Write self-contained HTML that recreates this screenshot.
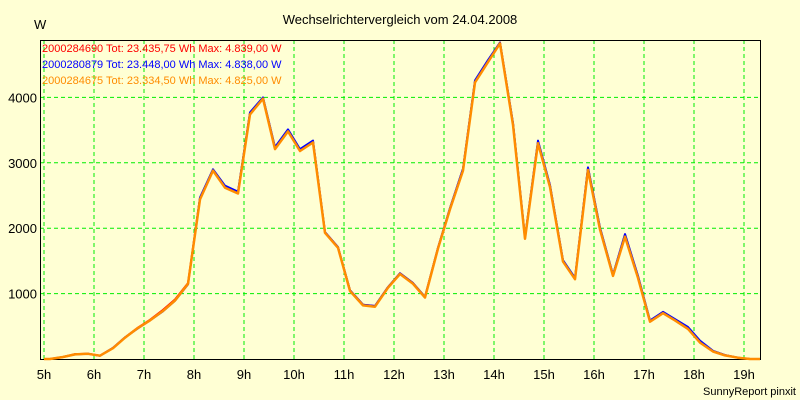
<!DOCTYPE html>
<html><head><meta charset="utf-8"><style>
body{margin:0;background:#ffffd4;}
svg{display:block;font-family:"Liberation Sans",sans-serif;}
</style></head><body>
<svg id="c" width="800" height="400">
<rect width="800" height="400" fill="#ffffd4"/>
<text x="400" y="24" text-anchor="middle" font-size="13">Wechselrichtervergleich vom 24.04.2008</text>
<text x="34" y="29" font-size="13">W</text>
<g id="grid"></g>
<g id="axes"></g>
<g id="series"></g>
<g id="legend"></g>
<text x="796" y="395" text-anchor="end" font-size="11">SunnyReport pinxit</text>
</svg>
<script>
const hours=[5.0,5.12,5.38,5.62,5.88,6.12,6.38,6.62,6.88,7.12,7.38,7.62,7.88,8.12,8.38,8.62,8.88,9.12,9.38,9.62,9.88,10.12,10.38,10.62,10.88,11.12,11.38,11.62,11.88,12.12,12.38,12.62,12.88,13.12,13.38,13.62,13.88,14.12,14.38,14.62,14.88,15.12,15.38,15.62,15.88,16.12,16.38,16.62,16.88,17.12,17.38,17.62,17.88,18.12,18.38,18.62,18.88,19.12,19.32];
const seriesRed=[0,0,30,75,80,50,170,330,480,600,750,910,1160,2460,2890,2640,2550,3760,3990,3230,3500,3200,3330,1940,1710,1050,830,810,1100,1310,1160,950,1700,2300,2900,4250,4560,4839,3600,1850,3320,2650,1500,1230,2920,2000,1280,1900,1260,580,720,600,480,270,120,60,20,0,0];
const seriesBlue=[0,0,30,70,80,50,170,330,470,590,730,890,1140,2470,2900,2650,2560,3770,4000,3240,3510,3210,3340,1940,1710,1050,830,810,1100,1310,1160,950,1700,2310,2910,4260,4570,4838,3610,1860,3340,2660,1510,1240,2930,2010,1290,1910,1270,590,720,610,490,280,125,60,20,0,0];
const seriesOrange=[0,0,30,70,80,50,165,325,475,590,735,895,1150,2440,2880,2620,2530,3740,3980,3210,3480,3180,3310,1930,1700,1040,820,800,1090,1300,1150,940,1690,2290,2880,4230,4540,4825,3580,1840,3300,2630,1490,1220,2890,1980,1270,1870,1240,570,700,590,460,250,115,55,20,0,0];
const yTicks=[1000,2000,3000,4000];
const xTicks=[5,6,7,8,9,10,11,12,13,14,15,16,17,18,19];
const legendLabels=["2000284690 Tot: 23.435,75 Wh Max: 4.839,00 W","2000280879 Tot: 23.448,00 Wh Max: 4.838,00 W","2000284675 Tot: 23.334,50 Wh Max: 4.825,00 W"];
const NS="http://www.w3.org/2000/svg";
const L=40,R=760,T=40,B=359;
const xs=h=>44+(h-5)*50;
const ys=v=>B-v*0.0654;
function mk(tag,attrs,parent){const e=document.createElementNS(NS,tag);for(const k in attrs)e.setAttribute(k,attrs[k]);parent.appendChild(e);return e;}
const grid=document.getElementById('grid'),axes=document.getElementById('axes'),ser=document.getElementById('series'),leg=document.getElementById('legend');
yTicks.forEach(v=>{
 const l=mk('line',{x1:L,x2:R,y1:ys(v),y2:ys(v),stroke:'#00ee00','stroke-dasharray':'4,3','stroke-width':1},grid);
 
 
 const t=mk('text',{x:37,y:ys(v)+5,'text-anchor':'end','font-size':13},axes);t.textContent=v;
 
 
});
xTicks.forEach(h=>{
 const l=mk('line',{x1:xs(h),x2:xs(h),y1:T,y2:B,stroke:'#00ee00','stroke-dasharray':'4,3','stroke-width':1},grid);
 
 
 const t=mk('text',{x:xs(h),y:379,'text-anchor':'middle','font-size':13},axes);t.textContent=h+'h';
 
 
});
const frame=mk('rect',{x:L+0.5,y:T+0.5,width:R-L,height:B-T,fill:'none',stroke:'#000','stroke-width':1},axes);


const all=[[seriesRed,'#ff0000'],[seriesBlue,'#0000ff'],[seriesOrange,'#ff8c00']];
all.forEach(([d,c],i)=>{
 const pts=d.map((v,j)=>xs(hours[j]).toFixed(1)+','+ys(v).toFixed(1)).join(' ');
 const p=mk('polyline',{points:pts,fill:'none',stroke:c,'stroke-width':i==2?2.5:2,'stroke-linejoin':'round'},ser);
 
 
 const t=mk('text',{x:42,y:52+i*16,'font-size':11,fill:c},leg);t.textContent=legendLabels[i];
 
 
});
</script>
</body></html>
